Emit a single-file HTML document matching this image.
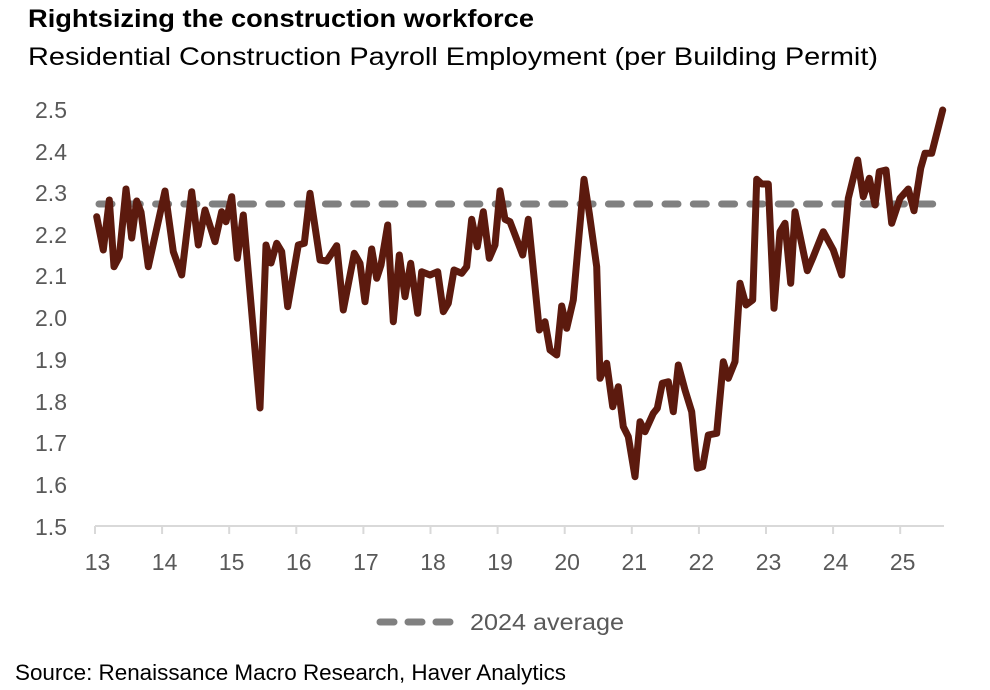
<!DOCTYPE html>
<html>
<head>
<meta charset="utf-8">
<style>
html,body{margin:0;padding:0;background:#fff;}
svg{display:block;}
</style>
</head>
<body>
<svg width="990" height="690" viewBox="0 0 990 690" xmlns="http://www.w3.org/2000/svg" font-family="Liberation Sans, sans-serif">
<rect width="990" height="690" fill="#fff"/>
<text x="28" y="27" font-size="25" font-weight="bold" fill="#000" textLength="506" lengthAdjust="spacingAndGlyphs">Rightsizing the construction workforce</text>
<text x="28" y="65" font-size="25" fill="#000" textLength="850" lengthAdjust="spacingAndGlyphs">Residential Construction Payroll Employment (per Building Permit)</text>

<g font-size="23" fill="#595959" text-anchor="end">
<text x="67" y="118">2.5</text>
<text x="67" y="160">2.4</text>
<text x="67" y="201">2.3</text>
<text x="67" y="243">2.2</text>
<text x="67" y="284">2.1</text>
<text x="67" y="326">2.0</text>
<text x="67" y="368">1.9</text>
<text x="67" y="410">1.8</text>
<text x="67" y="451">1.7</text>
<text x="67" y="493">1.6</text>
<text x="67" y="535">1.5</text>
</g>

<g stroke="#d9d9d9" stroke-width="2" fill="none">
<line x1="95" y1="526" x2="944" y2="526"/>
<line x1="95" y1="526" x2="95" y2="534"/>
<line x1="162.1" y1="526" x2="162.1" y2="534"/>
<line x1="229.2" y1="526" x2="229.2" y2="534"/>
<line x1="296.3" y1="526" x2="296.3" y2="534"/>
<line x1="363.4" y1="526" x2="363.4" y2="534"/>
<line x1="430.5" y1="526" x2="430.5" y2="534"/>
<line x1="497.6" y1="526" x2="497.6" y2="534"/>
<line x1="564.7" y1="526" x2="564.7" y2="534"/>
<line x1="631.8" y1="526" x2="631.8" y2="534"/>
<line x1="698.9" y1="526" x2="698.9" y2="534"/>
<line x1="766" y1="526" x2="766" y2="534"/>
<line x1="833.1" y1="526" x2="833.1" y2="534"/>
<line x1="900.2" y1="526" x2="900.2" y2="534"/>
</g>

<g font-size="23" fill="#595959" text-anchor="middle">
<text x="97.5" y="570">13</text>
<text x="164.6" y="570">14</text>
<text x="231.7" y="570">15</text>
<text x="298.8" y="570">16</text>
<text x="365.9" y="570">17</text>
<text x="433" y="570">18</text>
<text x="500.1" y="570">19</text>
<text x="567.2" y="570">20</text>
<text x="634.3" y="570">21</text>
<text x="701.4" y="570">22</text>
<text x="768.5" y="570">23</text>
<text x="835.6" y="570">24</text>
<text x="902.7" y="570">25</text>
</g>

<line x1="99" y1="204" x2="944" y2="204" stroke="#808080" stroke-width="7" stroke-linecap="round" stroke-dasharray="13 15.3"/>

<polyline fill="none" stroke="#5c1a0e" stroke-width="7" stroke-linejoin="round" stroke-linecap="round" points="
96.7,216.7 103.3,250 109.3,200 114,266.7 119.3,256.7 126,189 131.7,238 136.7,201 141,212 148.3,266.7
165,191 173.3,251.7 181.7,275 191.7,191.7 198.3,245 205,210 215,241.7 221.7,211.7 226,221.7 231.7,196.7
237.3,258.3 243.3,215 260,408 266,245 271,263 276.7,243.3 281.7,251.7 287.7,306.7 298.3,245 304.3,243.3
310,193.3 320,260 326.7,261 336.7,245.7 343.3,310 354.3,253.3 360,263.3 365,301.7 371.7,249 376.7,278.3
381,265 387.7,225 393.3,321.7 399.3,255 405,296.7 410.7,263.3 417.7,313.3 421.7,271.7 430,275 437.7,271.7
443.3,311.7 448.3,303.3 454,270 461.7,273.3 466.7,266.7 471.7,219.3 477.3,246.7 483.3,211.7 489.3,258.3 495,245
500,190.7 505,219.3 510,221.7 522.7,255 528.3,219.3 539.3,330 545,321.7 550,350 556.7,355 561.7,306
566.7,328.3 573.3,300 584,179.3 589.3,213.3 596.7,266.7 600,378.3 606.7,363.3 612.7,406.7 618.3,386.7 623.3,426.7
628.3,436.7 635,476.7 640,421.7 645,431.7 653.3,413.3 657.3,408.3 662.3,383.3 668.3,381.7 673.3,411.7 678.3,365
685,390 691.7,411.7 697.3,468.3 702.7,466.7 708.3,435 716.7,433.3 723.3,361.7 728.3,378.3 735,361.7 740,283.3
746,305 752.7,300 756.7,179.3 761.7,184 768.3,184 774,308.3 780,231.7 785,223.3 790.7,283.3 795,211.7
807.3,270.7 813.3,256.7 823.3,231.7 833.3,250 841.7,275 848.3,198.3 857.7,160 863.3,196.7 869.3,178.3 875,205
879.3,171.7 886,170 891.7,223.3 900,198.3 908.3,189 914,210.7 920.7,168.3 925,153.3 931.7,153.3 942.7,110"/>

<line x1="380" y1="622" x2="453" y2="622" stroke="#808080" stroke-width="7" stroke-linecap="round" stroke-dasharray="14 14"/>
<text x="470" y="630" font-size="23" fill="#595959" textLength="154" lengthAdjust="spacingAndGlyphs">2024 average</text>

<text x="15" y="680" font-size="22" fill="#000" textLength="551" lengthAdjust="spacingAndGlyphs">Source: Renaissance Macro Research, Haver Analytics</text>
</svg>
</body>
</html>
